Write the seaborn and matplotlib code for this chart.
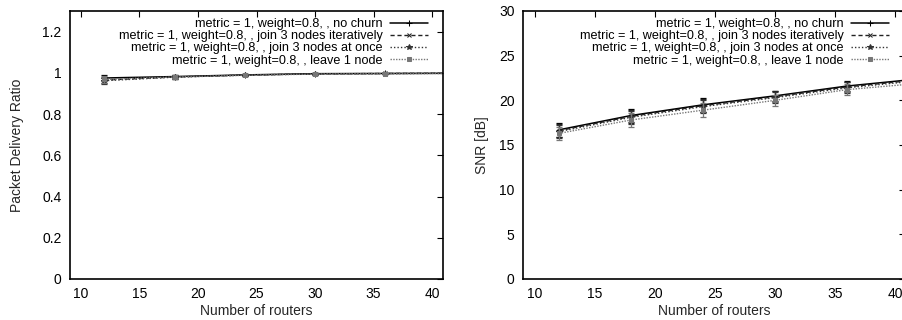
import numpy as np
import pandas as pd
import matplotlib
matplotlib.use("Agg")
import matplotlib.pyplot as plt
import seaborn as sns
from matplotlib.ticker import FormatStrFormatter, MultipleLocator

sns.set_theme(style="white")
plt.rcParams['font.family'] = ['Liberation Sans', 'DejaVu Sans']

routers = [12, 18, 24, 30, 36, 42]
series_names = [
    "metric = 1, weight=0.8, , no churn",
    "metric = 1, weight=0.8, , join 3 nodes iteratively",
    "metric = 1, weight=0.8, , join 3 nodes at once",
    "metric = 1, weight=0.8, , leave 1 node",
]
pdr_no_churn = [0.975, 0.982, 0.990, 0.996, 0.997, 0.998]
pdr_join_iter = [0.965, 0.980, 0.989, 0.995, 0.997, 0.998]
pdr_join_once = [0.962, 0.979, 0.989, 0.995, 0.996, 0.998]
pdr_leave = [0.968, 0.980, 0.988, 0.994, 0.996, 0.997]
pdr_err = [0.015, 0.008, 0.005, 0.004, 0.003, 0.002]

snr_no_churn = [16.7, 18.3, 19.5, 20.5, 21.6, 22.4]
snr_join_iter = [16.6, 18.2, 19.4, 20.4, 21.5, 22.3]
snr_join_once = [16.5, 18.1, 19.3, 20.3, 21.4, 22.2]
snr_leave = [16.3, 17.8, 18.9, 20.0, 21.2, 21.9]
snr_err = [0.75, 0.75, 0.75, 0.6, 0.6, 0.6]

styles = [
    dict(color="black", ls="-", marker="+", ms=4, lw=1.1),
    dict(color="#222222", ls=(0, (3, 2)), marker="x", ms=3.5, lw=1.0),
    dict(color="#333333", ls=(0, (1, 1.5)), marker="*", ms=4, lw=1.0),
    dict(color="#777777", ls=(0, (1, 1)), marker="s", ms=3.5, lw=1.0, mfc="#777777"),
]

fig = plt.figure(figsize=(9.02, 3.2), dpi=100)
ax1 = fig.add_axes([70/902, 1-279/320, (443-70)/902, (279-11)/320])
ax2 = fig.add_axes([523/902, 1-279/320, (905-523)/902, (279-11)/320])

def draw(ax, data, err):
    for name, vals, st in zip(series_names, data, styles):
        df = pd.DataFrame({"routers": routers, "val": vals})
        sns.lineplot(data=df, x="routers", y="val", ax=ax, color=st["color"],
                     linestyle=st["ls"], lw=st["lw"], marker=st["marker"],
                     markersize=st["ms"], markeredgecolor=st["color"],
                     markerfacecolor=st.get("mfc", st["color"]), label=name)
        ax.errorbar(routers, vals, yerr=err, fmt="none", ecolor=st["color"],
                    elinewidth=0.9, capsize=2, capthick=0.9)

draw(ax1, [pdr_no_churn, pdr_join_iter, pdr_join_once, pdr_leave], pdr_err)
draw(ax2, [snr_no_churn, snr_join_iter, snr_join_once, snr_leave], snr_err)

ax1.set_xlim(9.06, 40.94)
ax1.set_ylim(0, 1.3)
ax1.yaxis.set_major_locator(MultipleLocator(0.2))
ax1.yaxis.set_major_formatter(FormatStrFormatter('%g'))
ax1.set_ylabel("Packet Delivery Ratio", fontsize=10, labelpad=13)

ax2.set_xlim(9.0, 40.83)
ax2.set_ylim(0, 30)
ax2.yaxis.set_major_locator(MultipleLocator(5))
ax2.set_ylabel("SNR [dB]", fontsize=10, labelpad=7)

anchors = {ax1: (0.960, 0.974), ax2: (0.958, 0.974)}
for ax in (ax1, ax2):
    ax.xaxis.set_major_locator(MultipleLocator(5))
    ax.set_xlabel("Number of routers", fontsize=10, labelpad=2)
    ax.tick_params(direction="in", length=4, width=0.8, top=True, right=True,
                   labelsize=10, colors="black", pad=6)
    for s in ax.spines.values():
        s.set_color("black")
        s.set_linewidth(1.2)
    ax.set_facecolor("white")
    leg = ax.legend(loc="upper right", bbox_to_anchor=anchors[ax],
                    markerfirst=False, frameon=False,
                    fontsize=9.1, handlelength=3.0, handletextpad=0.6,
                    labelspacing=0.02, borderaxespad=0.0, borderpad=0.0)
    for col in leg._legend_box.get_children()[1].get_children():
        col.align = "right"
    for t in leg.get_texts():
        t.set_color("black")

fig.savefig("out.png", dpi=100, facecolor="white")
